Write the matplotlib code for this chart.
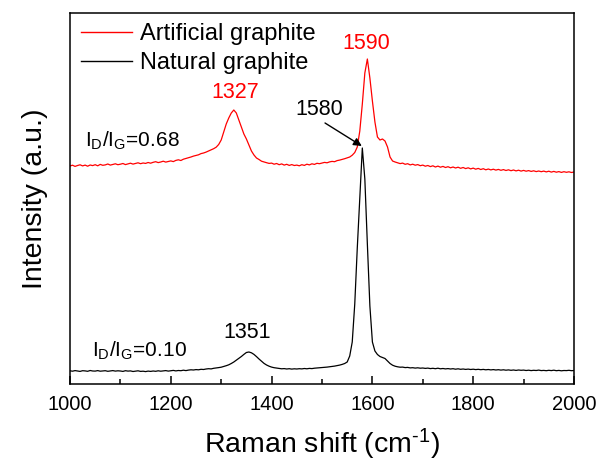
import numpy as np
import matplotlib
matplotlib.use("Agg")
import matplotlib.pyplot as plt

plt.rcParams['font.family'] = ['Liberation Sans', 'DejaVu Sans']
plt.rcParams['mathtext.fontset'] = 'custom'
plt.rcParams['mathtext.rm'] = 'Liberation Sans'
plt.rcParams['mathtext.it'] = 'Liberation Sans'

# Raman shift grid (cm-1), 5 cm-1 step
raman_shift = np.arange(1000, 2001, 5)

# Artificial graphite (offset intensity, a.u.)
artificial = [
    218, 218.8, 217.6, 218.5, 219.2, 218.1, 218.9, 217.8, 219.0, 218.4,
    219.3, 218.2, 219.6, 218.7, 219.1, 220.0, 218.9, 219.5, 220.2, 219.3,
    219.8, 220.5, 219.4, 220.1, 220.8, 219.9, 220.6, 221.2, 220.3, 221.0,
    220.6, 221.5, 220.8, 221.7, 222.3, 221.4, 222.0, 222.8, 221.9, 222.5,
    223.1, 222.4, 223.6, 224.2, 223.5, 224.8, 225.5, 226.3, 227.0, 227.9,
    228.6, 229.2, 230.4, 231.0, 231.9, 233.0, 234.1, 235.3, 236.8, 239.5,
    244, 252, 260, 266, 271, 274, 271, 264, 257, 250,
    245, 239, 233, 229, 226, 224.5, 222.8, 222.0, 221.3, 220.6,
    220.9, 219.8, 220.5, 219.3, 220.1, 218.9, 219.7, 218.6, 219.4, 218.5,
    218.9, 218.2, 219.3, 218.6, 219.8, 219.1, 220.2, 219.6, 220.7, 220.3,
    221.0, 221.6, 221.2, 222.1, 222.6, 222.3, 223.4, 223.9, 224.6, 225.3,
    226.2, 227.0, 228.8, 231.5, 237, 253, 280, 311, 325, 306,
    283, 262, 247, 244, 245, 243, 237, 227, 223, 222,
    221.2, 220.4, 220.9, 219.7, 220.3, 219.1, 219.8, 218.8, 219.4, 218.3,
    218.9, 217.8, 218.5, 217.4, 218.2, 217.0, 217.9, 216.8, 217.6, 216.5,
    217.3, 216.2, 217.0, 216.0, 216.8, 215.7, 216.5, 215.4, 216.2, 215.1,
    215.9, 214.8, 215.6, 214.5, 215.3, 214.2, 215.0, 214.1, 214.8, 213.9,
    214.6, 213.7, 214.4, 213.5, 214.2, 213.3, 214.0, 213.1, 213.8, 212.9,
    213.6, 212.8, 213.4, 212.6, 213.2, 212.4, 213.0, 212.3, 212.9, 212.1,
    212.8, 211.9, 212.6, 211.8, 212.4, 211.6, 212.3, 211.7, 212.2, 211.5,
    212.0,
]

# Natural graphite (intensity, a.u.)
natural = [
    13.2, 12.8, 13.4, 13.0, 12.6, 13.3, 13.1, 12.7, 13.5, 13.0,
    12.9, 13.4, 12.8, 13.1, 13.3, 12.7, 13.0, 13.4, 12.9, 13.2,
    13.0, 12.6, 13.3, 12.9, 13.1, 12.5, 12.9, 13.2, 12.6, 12.8,
    12.4, 12.9, 12.6, 13.0, 12.7, 13.2, 12.8, 13.1, 13.4, 12.9,
    13.2, 13.6, 13.1, 13.5, 13.3, 13.8, 13.4, 13.9, 14.2, 14.0,
    14.4, 14.2, 14.7, 14.5, 15.0, 15.3, 15.1, 15.7, 16.0, 16.4,
    16.8, 17.5, 18.3, 19.2, 20.5, 22.0, 23.8, 25.6, 27.5, 29.6,
    31.5, 32.0, 31.2, 29.6, 27.4, 25.0, 22.8, 20.6, 19.0, 17.8,
    16.9, 16.3, 15.9, 15.6, 15.2, 15.4, 15.0, 15.3, 14.9, 15.2,
    15.0, 15.3, 15.1, 15.5, 15.2, 15.6, 15.4, 15.8, 16.0, 16.2,
    16.4, 16.7, 16.9, 17.2, 17.6, 17.9, 18.4, 18.9, 19.6, 20.5,
    22, 28, 42, 80, 136, 185, 236, 205, 140, 78,
    42, 33, 29.5, 27.5, 26.5, 25.5, 23, 20.5, 18.8, 17.8,
    17.2, 16.8, 16.9, 16.4, 16.6, 16.1, 16.3, 15.9, 16.2, 15.8,
    16.0, 15.6, 15.9, 15.4, 15.7, 15.3, 15.8, 15.2, 15.5, 15.1,
    15.4, 15.0, 15.3, 14.8, 15.2, 14.7, 15.0, 14.6, 14.9, 14.5,
    14.8, 14.4, 14.7, 14.3, 14.6, 14.2, 14.5, 14.1, 14.4, 14.0,
    14.3, 13.9, 14.2, 13.8, 14.1, 13.7, 14.0, 13.6, 14.0, 13.7,
    13.9, 13.5, 13.8, 13.4, 13.7, 13.5, 13.9, 13.4, 13.6, 13.3,
    13.7, 13.4, 13.8, 13.3, 13.6, 13.2, 13.5, 13.4, 13.7, 13.3,
    13.5,
]

series_labels = ["Artificial graphite", "Natural graphite"]
xticks = [1000, 1200, 1400, 1600, 1800, 2000]

fig = plt.figure(figsize=(6.05, 4.62), dpi=100)
ax = fig.add_axes([70/605, (462-384)/462, 504/605, 371/462])

ax.plot(raman_shift, artificial, color='#ff0000', lw=0.9, label=series_labels[0])
ax.plot(raman_shift, natural, color='black', lw=0.9, label=series_labels[1])

ax.set_xlim(1000, 2000)
ax.set_ylim(0, 371)
ax.set_xticks(xticks)
ax.set_xticks(np.arange(1100, 2000, 200), minor=True)
ax.set_yticks([])
ax.tick_params(axis='x', which='major', direction='in', length=5.5, width=1.1,
               labelsize=14.5, pad=8, top=False)
ax.tick_params(axis='x', which='minor', direction='in', length=3.5, width=1.1, top=False)
for s in ax.spines.values():
    s.set_linewidth(1.1)

ax.set_xlabel('Raman shift (cm$^{\\mathregular{\u20101}}$)', fontsize=20.5, labelpad=9)
ax.set_ylabel('Intensity (a.u.)', fontsize=20.5, labelpad=16)

leg = ax.legend(loc='upper left', bbox_to_anchor=(0.022, 0.972), frameon=False,
                fontsize=17, handlelength=2.15, handletextpad=0.33,
                labelspacing=0.3, borderaxespad=0, borderpad=0)
for line in leg.get_lines():
    line.set_linewidth(1.0)

# peak annotations
ax.text(1327, 292, '1327', color='#ff0000', fontsize=15.5, ha='center', va='center')
ax.text(1588, 341, '1590', color='#ff0000', fontsize=15.5, ha='center', va='center')
ax.text(1494, 275, '1580', color='black', fontsize=15.5, ha='center', va='center')
ax.annotate('', xy=(1579, 238), xytext=(1506, 261),
            arrowprops=dict(arrowstyle='-|>', color='black', lw=1.0,
                            mutation_scale=12, shrinkA=0, shrinkB=0))
ax.text(1351, 52, '1351', color='black', fontsize=15.5, ha='center', va='center')

ax.text(1030, 237, r'I$_\mathregular{D}$/I$_\mathregular{G}$=0.68', fontsize=15,
        ha='left', va='baseline')
ax.text(1044, 27, r'I$_\mathregular{D}$/I$_\mathregular{G}$=0.10', fontsize=15,
        ha='left', va='baseline')

fig.savefig('out.png', dpi=100)
